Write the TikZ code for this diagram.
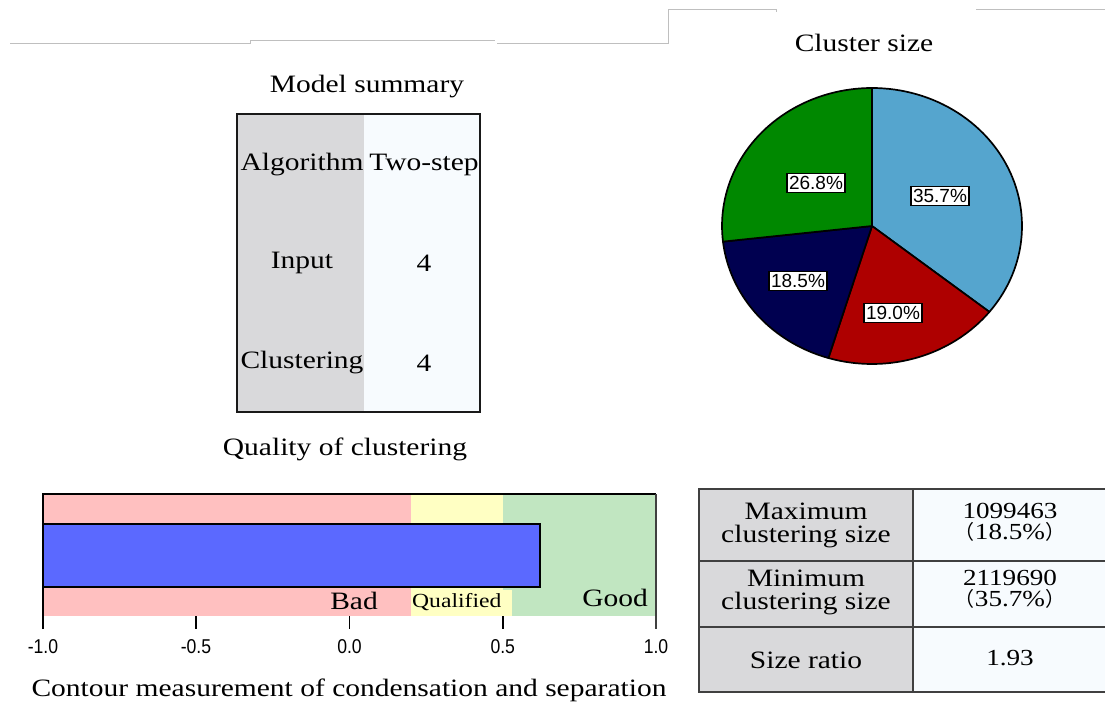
\documentclass[tikz,border=0pt]{standalone}
\usepackage{fontspec}
\setmainfont{Liberation Serif}[FakeStretch=1.18]
\newfontfamily\sansf{Liberation Sans}
\newfontfamily\ticksf{Liberation Sans}[FakeStretch=0.88]
\newfontfamily\cjk{Noto Sans CJK SC}
\definecolor{grayc}{RGB}{217,217,219}
\definecolor{whitec}{RGB}{247,251,254}
\definecolor{pieblue}{RGB}{85,165,206}
\definecolor{piered}{RGB}{174,0,0}
\definecolor{pienavy}{RGB}{0,0,80}
\definecolor{piegreen}{RGB}{0,136,0}
\definecolor{pinkc}{RGB}{255,192,192}
\definecolor{yellowc}{RGB}{255,255,195}
\definecolor{greenc}{RGB}{193,230,193}
\definecolor{barblue}{RGB}{91,105,255}
\begin{document}
\begin{tikzpicture}[x=1pt,y=-1pt,
  topline/.style={draw=black!25,line width=1pt},
  txt/.style={font=\fontsize{25}{23}\selectfont,inner sep=0pt,align=center},
  numtxt/.style={font=\fontsize{23}{21}\selectfont,inner sep=0pt,align=center},
  pct/.style={draw=black,line width=1.3pt,fill=white,font=\sansf\fontsize{19}{19}\selectfont,inner xsep=2pt,inner ysep=3pt},
  ticklbl/.style={font=\ticksf\fontsize{20}{20}\selectfont,inner sep=0pt},
  slice/.style={draw=black,line width=1.7pt,line join=round},
  tickmark/.style={draw=black,line width=1.5pt}]
\useasboundingbox (0,0) rectangle (1105,708);
\fill[white] (0,0) rectangle (1105,708);

% top lines
\draw[topline] (10,44) -- (250,44) -- (250,41) -- (495,41);
\draw[topline] (497,44) -- (668,44) -- (668,10) -- (776,10) -- (776,12);
\draw[topline] (976,10) -- (1105,10);

% Model summary table
\node[txt] (mstitle) at (367,87) {Model summary};
\fill[grayc] (237,114) rectangle (364,412);
\fill[whitec] (364,114) rectangle (480,412);
\draw[line width=2.8pt,black!90] (237,114) rectangle (480,412);
\node[txt] (alg) at (302,165) {Algorithm};
\node[txt] (algv) at (424,165) {Two-step};
\node[txt] (inp) at (302,263) {Input};
\node[txt] (inpv) at (424,263) {4};
\node[txt] (clu) at (302,363) {Clustering};
\node[txt] (cluv) at (424,363) {4};

% Pie chart
\node[txt] (cstitle) at (864,43) {Cluster size};
\filldraw[slice,fill=pieblue] (872,226) -- plot[domain=-90:38.5,samples=60] ({872+150*cos(\x)},{226+138*sin(\x)}) -- cycle;
\filldraw[slice,fill=piered] (872,226) -- plot[domain=38.5:106.9,samples=40] ({872+150*cos(\x)},{226+138*sin(\x)}) -- cycle;
\filldraw[slice,fill=pienavy] (872,226) -- plot[domain=106.9:173.5,samples=40] ({872+150*cos(\x)},{226+138*sin(\x)}) -- cycle;
\filldraw[slice,fill=piegreen] (872,226) -- plot[domain=173.5:270,samples=50] ({872+150*cos(\x)},{226+138*sin(\x)}) -- cycle;
\node[pct] (p357) at (940,196) {35.7\%};
\node[pct] (p268) at (816,183) {26.8\%};
\node[pct] (p185) at (798,281) {18.5\%};
\node[pct] (p190) at (893,313) {19.0\%};

% Quality of clustering
\node[txt] (qtitle) at (345,449) {Quality of clustering};
\fill[pinkc] (43,494) rectangle (410.8,616);
\fill[yellowc] (410.8,494) rectangle (502.75,616);
\fill[greenc] (502.75,494) rectangle (656,616);
\fill[yellowc] (410.8,590) rectangle (512,616);
\filldraw[fill=barblue,draw=black,line width=2pt] (43,524) rectangle (540,587);
\draw[line width=2pt] (43,629) -- (43,494) -- (656,494);
\draw[line width=1.5pt,black!75] (656,494) -- (656,629);
\draw[tickmark] (196,616) -- (196,629);
\draw[tickmark] (349.5,616) -- (349.5,629);
\draw[tickmark] (502.75,616) -- (502.75,629);
\node[txt,anchor=east] (bad) at (378,601) {Bad};
\node[font=\fontsize{20}{20}\selectfont,inner sep=0pt,anchor=west] (qual) at (412,602) {Qualified};
\node[txt,anchor=east] (good) at (648,598) {Good};
\node[ticklbl] (t1) at (43,647) {-1.0};
\node[ticklbl] (t2) at (196,647) {-0.5};
\node[ticklbl] (t3) at (349.5,647) {0.0};
\node[ticklbl] (t4) at (502.75,647) {0.5};
\node[ticklbl] (t5) at (656,647) {1.0};
\node[txt] (xtitle) at (349,690) {Contour measurement of condensation and separation};

% Right table
\fill[grayc] (699,489) rectangle (913,692);
\fill[whitec] (913,489) rectangle (1105,692);
\draw[line width=1.5pt,black!75] (1105,489) -- (699,489) -- (699,692) -- (1105,692);
\draw[line width=1.5pt,black!75] (699,561) -- (1105,561);
\draw[line width=1.5pt,black!75] (699,627) -- (1105,627);
\draw[line width=1.5pt,black!75] (913,489) -- (913,692);
\node[txt] (maxl) at (806,525) {Maximum\\clustering size};
\node[numtxt] (maxv) at (1010,522) {1099463\\{\cjk\fontsize{20}{20}\selectfont （}18.5\%{\cjk\fontsize{20}{20}\selectfont ）}};
\node[txt] (minl) at (806,592) {Minimum\\clustering size};
\node[numtxt] (minv) at (1010,589) {2119690\\{\cjk\fontsize{20}{20}\selectfont （}35.7\%{\cjk\fontsize{20}{20}\selectfont ）}};
\node[txt] (ratl) at (806,660) {Size ratio};
\node[numtxt] (ratv) at (1010,658) {1.93};
\end{tikzpicture}
\end{document}
